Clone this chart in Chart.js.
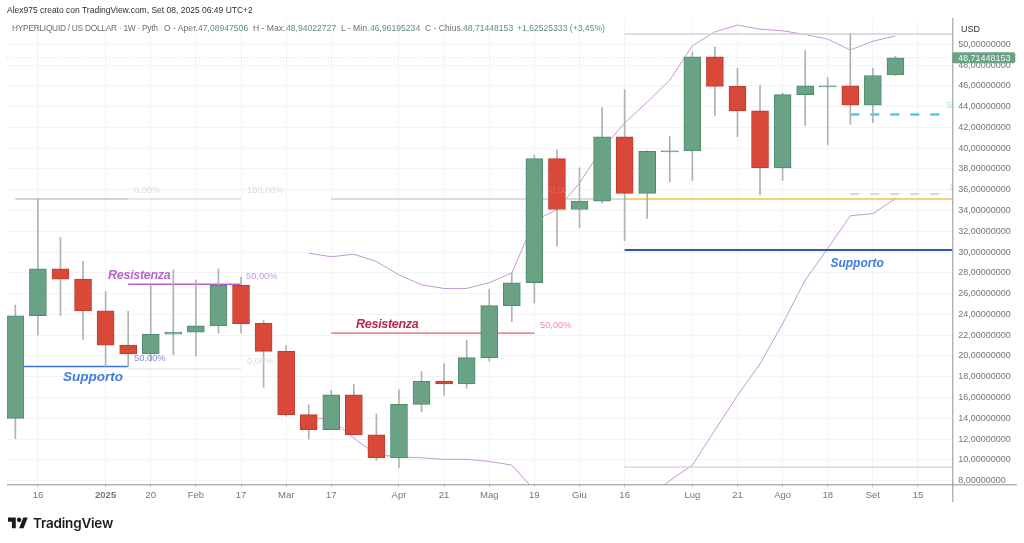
<!DOCTYPE html>
<html>
<head>
<meta charset="utf-8">
<title>HYPERLIQUID / US DOLLAR</title>
<script src="https://cdn.jsdelivr.net/npm/chart.js@4"></script>
<style>
  html,body{margin:0;padding:0;background:#fff;width:1024px;height:543px;overflow:hidden}
  body{position:relative;font-family:"Liberation Sans",Arial,sans-serif}
  #c{position:absolute;left:0;top:0}
  .txt{position:absolute;white-space:pre;line-height:12px}
  #credit{left:7px;top:4px;font-size:8.5px;color:#2a2e39}
  .leg{top:22px;font-size:8.6px;color:#6a6d78}
  .val{color:#5e9079}
  #usd{left:961px;top:23px;font-size:9px;color:#333}
  #brand{left:33px;top:514px;font-size:13.5px;line-height:18px;font-weight:600;color:#1c1c1c;font-family:Inter,"Liberation Sans",sans-serif;letter-spacing:-.2px}
  #logo{position:absolute;left:8px;top:515px}
</style>
</head>
<body>
<canvas id="c" width="1024" height="543"></canvas>
<div class="txt" id="credit">Alex975 creato con TradingView.com, Set 08, 2025 06:49 UTC+2</div>
<div class="txt leg" style="left:12px;font-size:8.4px;letter-spacing:-.28px">HYPERLIQUID / US DOLLAR · 1W · Pyth</div>
<div class="txt leg" style="left:164px">O - Aper.</div><div class="txt leg val" style="left:198px">47,08947506</div>
<div class="txt leg" style="left:253px">H - Max.</div><div class="txt leg val" style="left:286px">48,94022727</div>
<div class="txt leg" style="left:341px">L - Min.</div><div class="txt leg val" style="left:370px">46,96195234</div>
<div class="txt leg" style="left:425px">C - Chius.</div><div class="txt leg val" style="left:463px">48,71448153</div>
<div class="txt leg val" style="left:517px">+1,62525333 (+3,45%)</div>
<div class="txt" id="usd">USD</div>
<svg id="logo" width="20" height="17" viewBox="0 0 36 28" preserveAspectRatio="none"><path fill="#1c1c1c" d="M14 22H7V11H0V4h14v18zM28 22h-8l7.5-18h8L28 22z"/><circle fill="#1c1c1c" cx="20" cy="8" r="4"/></svg>
<div class="txt" id="brand">TradingView</div>
<script>
// ---- Data ----
const opens  = [14,23.87,28.4,27.4,24.35,21.05,20.2,22.1,22.3,22.9,26.8,23.15,20.45,14.35,12.9,16.25,12.4,10.2,15.35,17.55,17.3,19.85,24.85,27.05,39,34.1,34.9,41.1,35.65,39.65,39.75,48.8,45.95,43.6,38.1,45.15,45.9,46,44.15,47.05];
const closes = [23.87,28.4,27.4,24.35,21.05,20.2,22.1,22.3,22.9,26.8,23.1,20.45,14.35,12.9,16.25,12.4,10.2,15.35,17.55,17.3,19.85,24.85,27.05,39,34.1,34.9,41.1,35.65,39.7,39.75,48.8,45.95,43.6,38.1,45.15,46,46,44.15,47,48.7];
const highs  = [24.9,35.1,31.4,29.1,26.2,24.3,26.8,28.3,27.3,28.4,27.6,23.4,21,15.3,16.7,17.25,14.4,16.75,18.5,19.25,21.5,26.45,28,39.35,39.85,38.1,43.9,45.65,39.75,41.15,49.25,49.75,47.7,46.05,45.3,49.4,46.8,51,47.7,48.85];
const lows   = [12.04,22,23.9,21.6,19,19,19.5,20.1,20,22.2,22.2,17,14.2,12,12.9,12.4,9.95,9.25,14.65,16.2,16.9,19.5,23.3,25.1,30.6,32.35,34.7,31.1,33.25,36.75,36.9,43.15,41.1,35.5,36.9,42.2,40.35,42.3,42.45,47];
const upperBand = [null,null,null,null,null,null,null,null,null,null,null,null,null,29.9,29.55,29.8,29.1,27.8,26.85,26.5,26.5,27.05,28,33,34.1,36.65,39.95,42.4,44.45,46.55,49.85,51.2,51.85,51.45,51.3,50.95,50.5,49.45,50.3,50.8];
const lowerBand = [null,null,null,null,null,null,null,null,null,null,null,null,null,14.1,13.9,12.1,10.5,10.3,10.2,10.05,10.05,9.85,9.5,7.1,null,null,null,null,6.4,8,9.5,12.85,16.2,19.25,23.1,27.3,30.35,33.5,33.7,35.15];

const yTicks = [8,10,12,14,16,18,20,22,24,26,28,30,32,34,36,38,40,42,44,46,48,50];
const xTickBars = [1,4,6,8,10,12,14,17,19,21,23,25,27,30,32,34,36,38,40];
const xTickLabels = ["16","2025","20","Feb","17","Mar","17","Apr","21","Mag","19","Giu","16","Lug","21","Ago","18","Set","15"];

const lastPrice = 48.71448153;

// horizontal drawings: value, first bar, last bar
const lineValues = [35.1,35.1,35.1,35.1,19,18.75,26.9,22.2,51,9.3,30.2];
const lineStarts = [0,5,14,27,0,5,5,14,27,27,27];
const lineEnds   = [5,10,27,41.52,5,10,10,23,41.52,41.52,41.52];
const dashValues = [43.25,35.6];
const dashStarts = [37,37];
const dashEnds   = [41,41];

// text drawings
const noteTexts = ["Supporto","Resistenza","Resistenza","Supporto","0,00%","100,00%","50,00%","50,00%","0,00%","50,00%","50,00%","5","1"];
const noteBars  = [2.11,4.11,15.1,36.12,5.26,10.27,10.22,5.26,10.27,23.25,23.46,41.28,41.37];
const noteVals  = [17.98,27.75,22.98,28.9,35.9,35.9,27.7,19.76,19.47,22.9,35.9,44.1,36.27];

// ---- Styles ----
const GREEN="#6aa285", GREEN_EDGE="#4f8a6c", RED="#d9493a", RED_EDGE="#bf3b2e", WICK="#aeb2b0";
const GRID="#f2f4f6", AXIS="#8f9193", TICK="#72757c", BAND="#c795d8";
const lineColors = ["#c4c4c4","#dedede","#cfcfcf","#f2c34e","#3f74d8","#dcdcdc","#b960cc","#e4606a","#d2d2d2","#d2d2d2","#2f55c4"];
const lineWidths = [1.5,1.5,1.5,1.5,1.5,1,1.5,1.2,1.5,1.2,2];
const dashColors = ["#35c3d2","#dcd2dc"];
const small = "9.3px 'Liberation Sans'";
const noteStyles = [
  {font:"italic bold 13.5px 'Liberation Sans'",color:"#3f7de0",spacing:"0px"},
  {font:"italic bold 12.5px 'Liberation Sans'",color:"#b565cf",spacing:"-0.3px"},
  {font:"italic bold 12.5px 'Liberation Sans'",color:"#b82a48",spacing:"-0.3px"},
  {font:"italic bold 12px 'Liberation Sans'",color:"#3f7de0",spacing:"0px"},
  {font:small,color:"#dcdcdc"},
  {font:small,color:"#dcdcdc"},
  {font:small,color:"#c79adb"},
  {font:small,color:"#7d8ce0"},
  {font:small,color:"#dcdcdc"},
  {font:small,color:"#ef8f9c"},
  {font:small,color:"rgba(225,225,225,.18)"},
  {font:small,color:"#a6e3e8"},
  {font:small,color:"#dcdcdc"}
];

// ---- Utils ----
const comma = v => v.toFixed(8).replace(".",",");
const isUp = i => closes[i] >= opens[i];
const seg = (y,a,b) => [{x:a,y:y},{x:b,y:y}];
const series = arr => arr.map((v,i)=>({x:i,y:v}));

// ---- Datasets ----
const datasets = [];
lineValues.forEach((v,i)=>datasets.push({type:"line",data:seg(v,lineStarts[i],lineEnds[i]),borderColor:lineColors[i],borderWidth:lineWidths[i],pointRadius:0,order:3}));
dashValues.forEach((v,i)=>datasets.push({type:"line",data:seg(v,dashStarts[i],dashEnds[i]),borderColor:dashColors[i],borderWidth:2,borderDash:[9,11],pointRadius:0,order:3}));
datasets.push({type:"line",data:seg(lastPrice,-0.37,41.52),borderColor:"#c9ddd2",borderWidth:1,borderDash:[1,2],pointRadius:0,order:3});
datasets.push({type:"line",data:series(upperBand),borderColor:BAND,borderWidth:1,pointRadius:0,tension:0,spanGaps:false,order:3});
datasets.push({type:"line",data:series(lowerBand),borderColor:BAND,borderWidth:1,pointRadius:0,tension:0,spanGaps:false,order:3});
datasets.push({type:"bar",data:highs.map((h,i)=>({x:i,y:[lows[i],h]})),backgroundColor:WICK,barThickness:1,grouped:false,order:2});
datasets.push({type:"bar",data:opens.map((o,i)=>({x:i,y:[o,closes[i]]})),
  backgroundColor:opens.map((o,i)=>isUp(i)?GREEN:RED),
  borderColor:opens.map((o,i)=>isUp(i)?GREEN_EDGE:RED_EDGE),
  borderWidth:1,borderSkipped:false,barThickness:17,grouped:false,order:1});

// ---- Rendering ----
const extras = {
  id:"extras",
  afterDatasetsDraw(chart){
    const {ctx,scales:{x,y}} = chart;
    ctx.save();
    ctx.textBaseline="middle"; ctx.textAlign="left";
    noteTexts.forEach((t,i)=>{
      ctx.font=noteStyles[i].font; ctx.fillStyle=noteStyles[i].color;
      ctx.letterSpacing=noteStyles[i].spacing||"0px";
      ctx.fillText(t,x.getPixelForValue(noteBars[i]),y.getPixelForValue(noteVals[i]));
    });
    ctx.restore();
  },
  afterDraw(chart){
    const {ctx,chartArea:a,scales:{y}} = chart;
    ctx.save();
    // axis lines run a little past the plot
    ctx.strokeStyle=AXIS; ctx.lineWidth=1;
    ctx.beginPath();
    ctx.moveTo(a.left,a.bottom+.5); ctx.lineTo(1017,a.bottom+.5);
    ctx.moveTo(a.right+.5,18); ctx.lineTo(a.right+.5,502);
    ctx.stroke();
    // last price tag
    const py=y.getPixelForValue(lastPrice);
    ctx.fillStyle="#6aa285";
    ctx.beginPath(); ctx.roundRect(a.right,py-5.5,63,11,2); ctx.fill();
    ctx.fillStyle="#eef5f1"; ctx.font="9px 'Liberation Sans'";
    ctx.textBaseline="middle"; ctx.textAlign="left";
    ctx.fillText(comma(lastPrice),958,py+.5);
    ctx.restore();
  }
};

new Chart(document.getElementById("c").getContext("2d"),{
  data:{datasets},
  plugins:[extras],
  options:{
    responsive:false,animation:false,
    layout:{padding:{left:7,top:20,right:0,bottom:0}},
    plugins:{legend:{display:false},tooltip:{enabled:false}},
    scales:{
      x:{type:"linear",min:-0.37,max:41.52,offset:false,
        grid:{color:GRID,offset:false,tickLength:3,tickColor:"#cfd2d4"},border:{display:false},
        afterBuildTicks(ax){ax.ticks=xTickBars.map(v=>({value:v}))},
        afterFit(ax){ax.height=58.7},
        ticks:{autoSkip:false,maxRotation:0,padding:2,color:TICK,
          font:c=>({family:"Liberation Sans",size:9.5,weight:c.tick&&c.tick.value===4?"bold":"normal"}),
          callback:v=>xTickLabels[xTickBars.indexOf(v)]}
      },
      y:{type:"linear",position:"right",min:7.65,max:52.34,
        grid:{color:GRID,drawTicks:false},border:{display:false},
        afterBuildTicks(ax){ax.ticks=yTicks.map(v=>({value:v}))},
        afterFit(ax){ax.width=71.7},
        ticks:{autoSkip:false,padding:6,color:TICK,font:{family:"Liberation Sans",size:9},callback:v=>comma(v)}
      }
    }
  }
});
</script>
</body>
</html>
